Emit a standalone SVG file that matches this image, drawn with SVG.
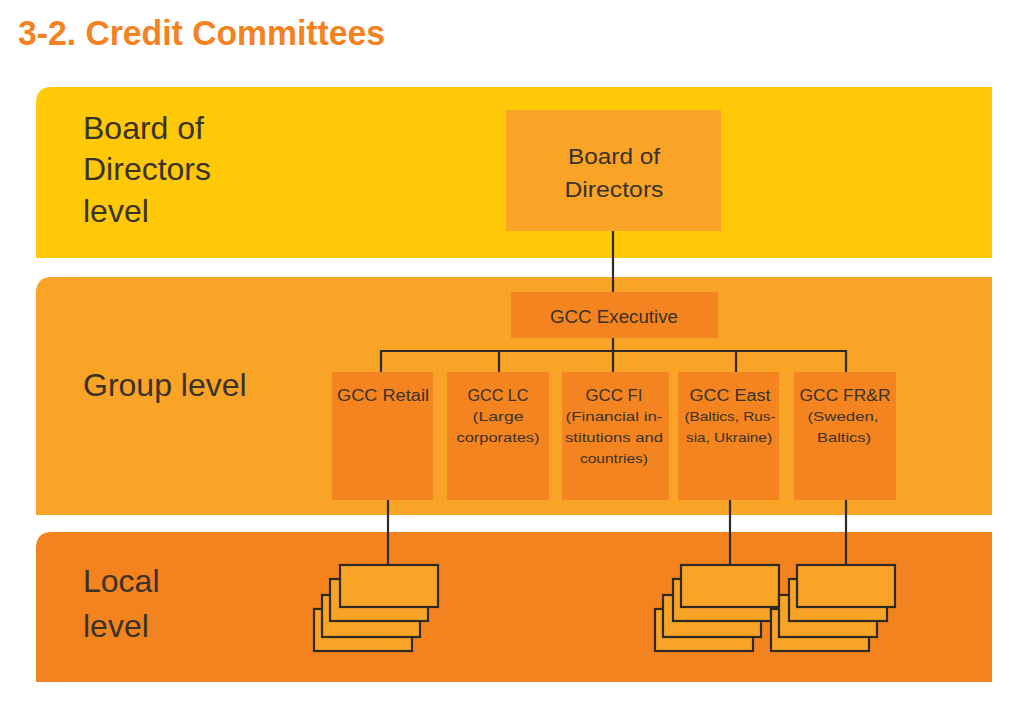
<svg xmlns="http://www.w3.org/2000/svg" width="1024" height="706" viewBox="0 0 1024 706">
<style>
.t{font-family:"Liberation Sans",Arial,sans-serif;fill:#3a3226}
.lvl{font-size:32px}
.h{font-size:16px;text-anchor:middle}
.s{font-size:13px;text-anchor:middle}
.ln{stroke:#2e2a22;stroke-width:2.2;fill:none}
.lb{fill:#F9A427;stroke:#2e2a22;stroke-width:2.2}
.gcc{fill:#F3841F}
</style>
<rect width="1024" height="706" fill="#ffffff"/>
<text x="18" y="45" font-family="Liberation Sans,Arial,sans-serif" font-weight="bold" font-size="35" fill="#F58220" textLength="367" lengthAdjust="spacingAndGlyphs">3-2. Credit Committees</text>

<g id="panel-board">
<path d="M36 103 Q36 87 52 87 H992 V258 H36 Z" fill="#FFC907"/>
<text class="t lvl" x="83" y="139">Board of</text>
<text class="t lvl" x="83" y="180">Directors</text>
<text class="t lvl" x="83" y="222">level</text>
</g>
<g id="panel-group">
<path d="M36 293 Q36 277 52 277 H992 V515 H36 Z" fill="#F9A427"/>
<text class="t lvl" x="83" y="396">Group level</text>
</g>
<g id="panel-local">
<path d="M36 548 Q36 532 52 532 H992 V682 H36 Z" fill="#F3831F"/>
<text class="t lvl" x="83" y="592">Local</text>
<text class="t lvl" x="83" y="637">level</text>
</g>

<g id="connectors">
<line class="ln" x1="613" y1="231" x2="613" y2="292"/>
<line class="ln" x1="613" y1="338" x2="613" y2="372"/>
<polyline class="ln" points="381,372 381,351 846,351 846,372"/>
<line class="ln" x1="499" y1="351" x2="499" y2="372"/>
<line class="ln" x1="736" y1="351" x2="736" y2="372"/>
<line class="ln" x1="388" y1="500" x2="388" y2="565"/>
<line class="ln" x1="730" y1="500" x2="730" y2="565"/>
<line class="ln" x1="846" y1="500" x2="846" y2="565"/>
</g>

<g id="board-of-directors">
<rect x="506" y="110" width="215" height="121" fill="#F9A427"/>
<text class="t" x="614" y="164" font-size="22" text-anchor="middle" textLength="92" lengthAdjust="spacingAndGlyphs">Board of</text>
<text class="t" x="614" y="197" font-size="22" text-anchor="middle" textLength="99" lengthAdjust="spacingAndGlyphs">Directors</text>
</g>
<g id="gcc-executive">
<rect x="511" y="292" width="207" height="46" fill="#F3841F"/>
<text class="t" x="614" y="323" font-size="18" text-anchor="middle" textLength="128" lengthAdjust="spacingAndGlyphs">GCC Executive</text>
</g>
<g id="gcc-retail">
<rect class="gcc" x="332" y="372" width="101" height="128"/>
<text class="t h" x="383" y="401" textLength="92" lengthAdjust="spacingAndGlyphs">GCC Retail</text>
</g>
<g id="gcc-lc">
<rect class="gcc" x="447" y="372" width="102" height="128"/>
<text class="t h" x="498" y="401" textLength="61" lengthAdjust="spacingAndGlyphs">GCC LC</text>
<text class="t s" x="498" y="421" textLength="51" lengthAdjust="spacingAndGlyphs">(Large</text>
<text class="t s" x="498" y="442" textLength="83" lengthAdjust="spacingAndGlyphs">corporates)</text>
</g>
<g id="gcc-fi">
<rect class="gcc" x="562" y="372" width="107" height="128"/>
<text class="t h" x="614" y="401" textLength="57" lengthAdjust="spacingAndGlyphs">GCC FI</text>
<text class="t s" x="614" y="421" textLength="97" lengthAdjust="spacingAndGlyphs">(Financial in-</text>
<text class="t s" x="614" y="442" textLength="98" lengthAdjust="spacingAndGlyphs">stitutions and</text>
<text class="t s" x="614" y="463" textLength="68" lengthAdjust="spacingAndGlyphs">countries)</text>
</g>
<g id="gcc-east">
<rect class="gcc" x="678" y="372" width="101" height="128"/>
<text class="t h" x="730" y="401" textLength="81" lengthAdjust="spacingAndGlyphs">GCC East</text>
<text class="t s" x="730" y="421" textLength="91" lengthAdjust="spacingAndGlyphs">(Baltics, Rus-</text>
<text class="t s" x="729" y="442" textLength="86" lengthAdjust="spacingAndGlyphs">sia, Ukraine)</text>
</g>
<g id="gcc-frr">
<rect class="gcc" x="794" y="372" width="102" height="128"/>
<text class="t h" x="845" y="401" textLength="91" lengthAdjust="spacingAndGlyphs">GCC FR&amp;R</text>
<text class="t s" x="843" y="421" textLength="71" lengthAdjust="spacingAndGlyphs">(Sweden,</text>
<text class="t s" x="844" y="442" textLength="54" lengthAdjust="spacingAndGlyphs">Baltics)</text>
</g>

<g id="local-retail">
<rect class="lb" x="314" y="609" width="98" height="42"/>
<rect class="lb" x="322" y="595" width="98" height="42"/>
<rect class="lb" x="330" y="579" width="98" height="42"/>
<rect class="lb" x="340" y="565" width="98" height="42"/>
</g>
<g id="local-east">
<rect class="lb" x="655" y="609" width="98" height="42"/>
<rect class="lb" x="663" y="595" width="98" height="42"/>
<rect class="lb" x="673" y="579" width="98" height="42"/>
<rect class="lb" x="681" y="565" width="98" height="42"/>
</g>
<g id="local-frr">
<rect class="lb" x="771" y="609" width="98" height="42"/>
<rect class="lb" x="779" y="595" width="98" height="42"/>
<rect class="lb" x="789" y="579" width="98" height="42"/>
<rect class="lb" x="797" y="565" width="98" height="42"/>
</g>
</svg>
